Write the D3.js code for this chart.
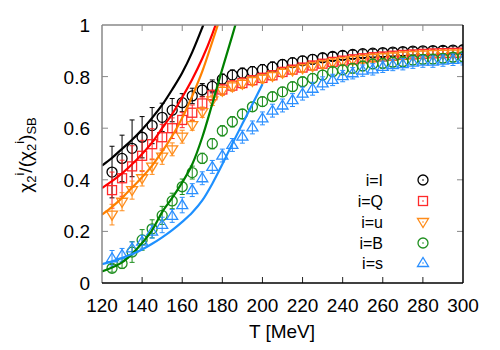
<!DOCTYPE html>
<html><head><meta charset="utf-8">
<script src="https://cdn.jsdelivr.net/npm/d3@7"></script>
<style>body{margin:0;background:#fff}svg{display:block;font-family:"Liberation Sans",Arial,sans-serif}</style>
</head><body>
<svg id="c" width="500" height="350"></svg>
<script>
const temps = [125,130,135,140,145,150,155,160,165,170,175,180,185,190,195,200,205,210,215,220,225,230,235,240,245,250,255,260,265,270,275,280,285,290,295,300];
const valI = [0.43,0.483,0.522,0.565,0.61,0.642,0.67,0.699,0.725,0.748,0.762,0.79,0.806,0.813,0.819,0.827,0.837,0.847,0.854,0.861,0.867,0.873,0.878,0.882,0.886,0.889,0.891,0.893,0.895,0.897,0.899,0.9,0.901,0.902,0.903,0.904];
const errI = [0.1,0.09,0.11,0.08,0.07,0.055,0.045,0.035,0.03,0.025,0.025,0.02,0.02,0.02,0.02,0.02,0.02,0.018,0.018,0.018,0.018,0.016,0.016,0.016,0.016,0.015,0.015,0.015,0.015,0.015,0.015,0.015,0.015,0.015,0.015,0.015];
const valQ = [0.36,0.406,0.452,0.493,0.538,0.565,0.6,0.632,0.66,0.696,0.728,0.75,0.765,0.775,0.786,0.795,0.805,0.818,0.827,0.835,0.843,0.85,0.857,0.862,0.867,0.871,0.875,0.878,0.881,0.884,0.886,0.888,0.89,0.891,0.892,0.893];
const errQ = [0.07,0.07,0.08,0.06,0.06,0.05,0.04,0.03,0.03,0.025,0.02,0.02,0.02,0.02,0.018,0.018,0.018,0.018,0.016,0.016,0.016,0.016,0.015,0.015,0.015,0.015,0.015,0.015,0.015,0.015,0.015,0.015,0.015,0.015,0.015,0.015];
const valU = [0.265,0.315,0.36,0.406,0.451,0.49,0.518,0.567,0.612,0.662,0.708,0.745,0.762,0.772,0.783,0.792,0.802,0.815,0.824,0.832,0.84,0.847,0.854,0.859,0.864,0.868,0.872,0.875,0.878,0.881,0.883,0.885,0.887,0.888,0.889,0.89];
const errU = [0.04,0.035,0.035,0.03,0.03,0.03,0.025,0.025,0.02,0.02,0.02,0.018,0.018,0.018,0.016,0.016,0.016,0.016,0.015,0.015,0.015,0.015,0.015,0.015,0.015,0.015,0.015,0.015,0.015,0.015,0.015,0.015,0.015,0.015,0.015,0.015];
const valB = [0.057,0.076,0.12,0.167,0.21,0.262,0.318,0.373,0.428,0.483,0.54,0.59,0.625,0.655,0.683,0.703,0.722,0.741,0.761,0.78,0.793,0.806,0.819,0.826,0.832,0.841,0.849,0.851,0.856,0.858,0.864,0.867,0.868,0.871,0.875,0.877];
const errB = [0.015,0.02,0.04,0.04,0.035,0.035,0.03,0.03,0.025,0.02,0.02,0.02,0.02,0.018,0.018,0.018,0.018,0.018,0.018,0.018,0.018,0.018,0.018,0.018,0.018,0.018,0.018,0.018,0.018,0.018,0.018,0.018,0.018,0.018,0.018,0.018];
const valS = [0.096,0.109,0.134,0.16,0.199,0.225,0.26,0.302,0.36,0.406,0.45,0.494,0.535,0.567,0.603,0.638,0.668,0.688,0.709,0.734,0.753,0.774,0.787,0.802,0.813,0.823,0.828,0.838,0.845,0.848,0.854,0.858,0.858,0.862,0.865,0.867];
const errS = [0.03,0.025,0.025,0.025,0.025,0.03,0.025,0.03,0.025,0.025,0.025,0.025,0.025,0.025,0.025,0.025,0.025,0.025,0.025,0.025,0.025,0.025,0.022,0.022,0.022,0.022,0.022,0.022,0.022,0.022,0.022,0.022,0.022,0.022,0.022,0.022];

// HRG curves
const lineTI = [120,125,130,135,140,145,150,155,160,165,170,172];
const lineI  = [0.455,0.485,0.52,0.555,0.595,0.64,0.69,0.75,0.815,0.895,0.99,1.03];
const lineTQ = [120,125,130,135,140,145,150,155,160,165,170,175,178];
const lineQ  = [0.368,0.395,0.425,0.46,0.5,0.545,0.6,0.655,0.72,0.79,0.87,0.965,1.03];
const lineTU = [120,125,130,135,140,145,150,155,160,165,170,175,179];
const lineU  = [0.265,0.295,0.33,0.37,0.41,0.455,0.51,0.57,0.64,0.725,0.82,0.935,1.03];
const lineTB = [120,125,130,135,140,145,150,155,160,165,170,175,180,185,188];
const lineB  = [0.045,0.06,0.08,0.113,0.155,0.205,0.275,0.33,0.39,0.46,0.565,0.695,0.83,0.96,1.04];
const lineTS = [120,125,130,135,140,145,150,155,160,165,170,175,180,185,190,195,200];
const lineS  = [0.073,0.084,0.097,0.112,0.13,0.152,0.177,0.205,0.237,0.273,0.32,0.385,0.46,0.54,0.617,0.693,0.77];

const xTicks = [120,140,160,180,200,220,240,260,280,300];
const yTicks = [0,0.2,0.4,0.6,0.8,1];
const yTickLabels = ["0","0.2","0.4","0.6","0.8","1"];
const legendLabels = ["i=I","i=Q","i=u","i=B","i=s"];

const series = [
  {v:valI,e:errI,lt:lineTI,l:lineI,pc:"#000000",lc:"#000000",sym:"circle"},
  {v:valQ,e:errQ,lt:lineTQ,l:lineQ,pc:"#ff2a2a",lc:"#ff0000",sym:"square"},
  {v:valU,e:errU,lt:lineTU,l:lineU,pc:"#ff8c1a",lc:"#ff8000",sym:"tridown"},
  {v:valB,e:errB,lt:lineTB,l:lineB,pc:"#1f8f1f",lc:"#008000",sym:"circle"},
  {v:valS,e:errS,lt:lineTS,l:lineS,pc:"#2a8fff",lc:"#1e90ff",sym:"triup"}
];

const L=102,R=463,T=25,B=283;
const x = d3.scaleLinear().domain([120,300]).range([L,R]);
const y = d3.scaleLinear().domain([0,1]).range([B,T]);
const svg = d3.select("#c");

svg.append("defs").append("clipPath").attr("id","clip")
  .append("rect").attr("x",L).attr("y",T).attr("width",R-L).attr("height",B-T);

function drawSym(g, sym, cx, cy, col, sw){
  if(sym==="circle"){
    g.append("circle").attr("cx",cx).attr("cy",cy).attr("r",5).attr("fill","none").attr("stroke",col).attr("stroke-width",sw);
  } else if(sym==="square"){
    g.append("rect").attr("x",cx-4.5).attr("y",cy-4.5).attr("width",9).attr("height",9).attr("fill","none").attr("stroke",col).attr("stroke-width",sw);
  } else if(sym==="tridown"){
    g.append("path").attr("d",`M${cx-5.5},${cy-3.5}L${cx+5.5},${cy-3.5}L${cx},${cy+5.5}Z`).attr("fill","none").attr("stroke",col).attr("stroke-width",sw);
  } else {
    g.append("path").attr("d",`M${cx-5.5},${cy+3.5}L${cx+5.5},${cy+3.5}L${cx},${cy-5.5}Z`).attr("fill","none").attr("stroke",col).attr("stroke-width",sw);
  }
}

// points with error bars
const pg = svg.append("g").attr("clip-path","url(#clip)");
series.forEach(s=>{
  const g = pg.append("g");
  temps.forEach((t,i)=>{
    const cx=x(t), y1=y(s.v[i]-s.e[i]), y2=y(s.v[i]+s.e[i]);
    g.append("line").attr("x1",cx).attr("x2",cx).attr("y1",y1).attr("y2",y2).attr("stroke",s.pc).attr("stroke-width",1);
    g.append("line").attr("x1",cx-2.5).attr("x2",cx+2.5).attr("y1",y1).attr("y2",y1).attr("stroke",s.pc).attr("stroke-width",1);
    g.append("line").attr("x1",cx-2.5).attr("x2",cx+2.5).attr("y1",y2).attr("y2",y2).attr("stroke",s.pc).attr("stroke-width",1);
    drawSym(g,s.sym,cx,y(s.v[i]),s.pc,1.3);
  });
});

// curves
const lg = svg.append("g").attr("clip-path","url(#clip)");
series.forEach(s=>{
  const pts = s.lt.map((t,i)=>[t,s.l[i]]);
  lg.append("path").attr("d",d3.line().x(d=>x(d[0])).y(d=>y(d[1])).curve(d3.curveMonotoneX)(pts))
    .attr("fill","none").attr("stroke",s.lc).attr("stroke-width",2.2);
});

// ticks
const tg = svg.append("g");
xTicks.slice(1,-1).forEach(t=>{
  tg.append("line").attr("x1",x(t)).attr("x2",x(t)).attr("y1",B).attr("y2",B-6).attr("stroke","#222").attr("stroke-width",1);
  tg.append("line").attr("x1",x(t)).attr("x2",x(t)).attr("y1",T).attr("y2",T+6).attr("stroke","#888").attr("stroke-width",1);
});
yTicks.slice(1,-1).forEach(v=>{
  tg.append("line").attr("x1",L).attr("x2",L+6).attr("y1",y(v)).attr("y2",y(v)).attr("stroke","#888").attr("stroke-width",1);
  tg.append("line").attr("x1",R).attr("x2",R-6).attr("y1",y(v)).attr("y2",y(v)).attr("stroke","#888").attr("stroke-width",1);
});
// border
svg.append("line").attr("x1",L).attr("x2",L).attr("y1",T).attr("y2",B).attr("stroke","#888").attr("stroke-width",1.5);
svg.append("line").attr("x1",L).attr("x2",R).attr("y1",T).attr("y2",T).attr("stroke","#888").attr("stroke-width",1.5);
svg.append("line").attr("x1",R).attr("x2",R).attr("y1",T).attr("y2",B).attr("stroke","#000").attr("stroke-width",1.5);
svg.append("line").attr("x1",L).attr("x2",R).attr("y1",B).attr("y2",B).attr("stroke","#000").attr("stroke-width",1.5);

// tick labels
xTicks.forEach(t=>{
  svg.append("text").attr("x",x(t)).attr("y",312).attr("text-anchor","middle").attr("font-size",19).text(t);
});
yTicks.forEach((v,i)=>{
  svg.append("text").attr("x",90).attr("y",y(v)+7).attr("text-anchor","end").attr("font-size",19).text(yTickLabels[i]);
});
svg.append("text").attr("x",282).attr("y",338).attr("text-anchor","middle").attr("font-size",19).text("T [MeV]");

// y label
const yl = svg.append("text").attr("transform","translate(32,155) rotate(-90)").attr("text-anchor","middle").attr("font-size",19);
yl.append("tspan").text("χ");
yl.append("tspan").attr("font-size",13).attr("dy",4).text("2");
yl.append("tspan").attr("font-size",13).attr("dy",-12).text("i");
yl.append("tspan").attr("dy",8).text("/(χ");
yl.append("tspan").attr("font-size",13).attr("dy",4).text("2");
yl.append("tspan").attr("font-size",13).attr("dy",-12).text("i");
yl.append("tspan").attr("dy",8).text(")");
yl.append("tspan").attr("font-size",13).attr("dy",4).text("SB");

// legend
const legY = [180,201,222,243,263];
series.forEach((s,i)=>{
  svg.append("text").attr("x",383).attr("y",legY[i]+6).attr("text-anchor","end").attr("font-size",16).text(legendLabels[i]);
  const g = svg.append("g");
  drawSym(g,s.sym,423,legY[i],s.pc,1.3);
  g.append("circle").attr("cx",423).attr("cy",legY[i]).attr("r",0.8).attr("fill",s.pc);
});
</script>
</body></html>
